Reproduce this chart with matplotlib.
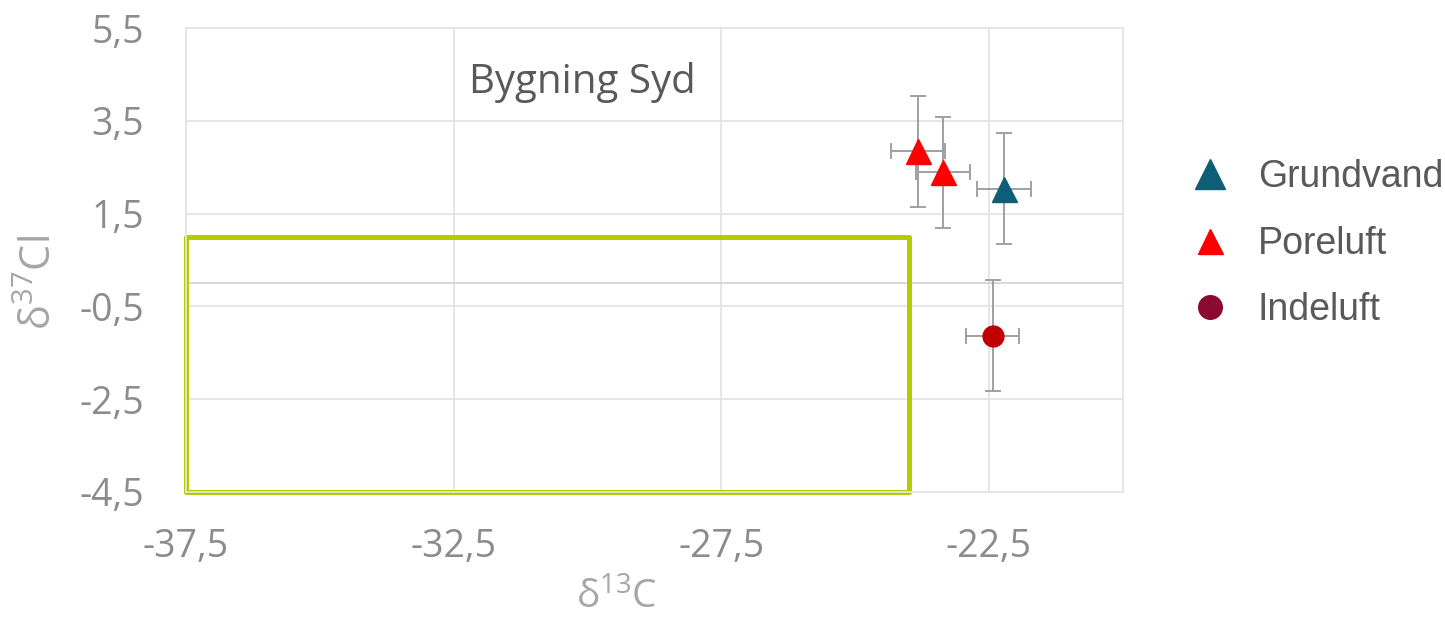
import matplotlib
matplotlib.use("Agg")
import matplotlib.pyplot as plt
from matplotlib.lines import Line2D
from matplotlib.patches import Rectangle
from matplotlib.ticker import FuncFormatter

# isotope data: d13C (x), d37Cl (y) with uncertainties
grund_x = [-22.22]
grund_y = [2.04]
pore_x = [-23.83, -23.36]
pore_y = [2.84, 2.39]
inde_x = [-22.43]
inde_y = [-1.13]
err_x = 0.5
err_y = 1.2

# degradation box
box_x = [-37.5, -24.0]
box_y = [-4.5, 1.0]

x_ticks = [-37.5, -32.5, -27.5, -22.5]
y_ticks = [-4.5, -2.5, -0.5, 1.5, 3.5, 5.5]

c_grund = "#0f5e78"
c_pore = "#ff0000"
c_inde = "#c00000"
c_inde_leg = "#8b0a30"
c_err = "#a0a0a0"
c_grid = "#e4e4e4"
c_tick = "#8c8c8c"
c_text = "#595959"
c_label = "#a6a6a6"

plt.rcParams["mathtext.fontset"] = "custom"
plt.rcParams["mathtext.rm"] = "Open Sans"
plt.rcParams["mathtext.it"] = "Open Sans"

fig = plt.figure(figsize=(14.45, 6.2), dpi=100)
ax = fig.add_axes([0.1287, 0.2065, 0.6483, 0.7483])

comma = FuncFormatter(lambda v, p: f"{v:.1f}".replace(".", ","))

ax.set_xlim(-37.5, -20)
ax.set_ylim(-4.5, 5.5)
ax.set_xticks(x_ticks)
ax.set_yticks(y_ticks)
ax.xaxis.set_major_formatter(comma)
ax.yaxis.set_major_formatter(comma)
ax.tick_params(length=0, labelsize=27, labelcolor=c_tick)
ax.tick_params(axis="x", pad=26)
ax.tick_params(axis="y", pad=30)
for lab in ax.get_xticklabels() + ax.get_yticklabels():
    lab.set_family("Open Sans")
ax.grid(True, color=c_grid, lw=1.3)
ax.set_axisbelow(True)
for s in ax.spines.values():
    s.set_color(c_grid)
    s.set_linewidth(1.3)
ax.axhline(0, color="#d6d6d6", lw=1.3, zorder=1)

ax.add_patch(Rectangle((box_x[0], box_y[0]), box_x[1] - box_x[0], box_y[1] - box_y[0],
                       fill=False, edgecolor="#b5cc00", lw=3.6, zorder=2, clip_on=False,
                       joinstyle="round"))

ekw = dict(xerr=err_x, yerr=err_y, ecolor=c_err, elinewidth=1.4, capsize=6,
           capthick=1.4, ls="none", zorder=3)
ax.errorbar(pore_x, pore_y, marker="^", ms=18, mfc=c_pore, mec=c_pore, **ekw)
ax.errorbar(grund_x, grund_y, marker="^", ms=18, mfc=c_grund, mec=c_grund, **ekw)
ax.errorbar(inde_x, inde_y, marker="o", ms=15, mfc=c_inde, mec=c_inde, **ekw)

ax.text(-30.1, 4.33, "Bygning Syd", fontsize=29, color=c_text, family="Open Sans",
        ha="center", va="center")

# axis titles sit off-centre, placed in figure coordinates
fig.text(617 / 1445, 1 - 598 / 620, r"δ$^{13}$C", fontsize=28, color=c_label,
         family="Open Sans", ha="center", va="center")
fig.text(40 / 1445, 1 - 283 / 620, r"δ$^{37}$Cl", fontsize=30, color=c_label,
         family="Open Sans", ha="center", va="center", rotation=90)

handles = [
    Line2D([], [], ls="none", marker="^", ms=22, color=c_grund),
    Line2D([], [], ls="none", marker="^", ms=18, color=c_pore),
    Line2D([], [], ls="none", marker="o", ms=17, color=c_inde_leg),
]
leg = fig.legend(handles, ["Grundvand", "Poreluft", "Indeluft"],
                 loc="center left", bbox_to_anchor=(0.7985, 0.607), frameon=False,
                 prop={"family": "Liberation Sans", "size": 27}, labelspacing=0.82,
                 handletextpad=0.67, handlelength=1.2)
for t in leg.get_texts():
    t.set_color(c_text)

fig.savefig("out.png", dpi=100)
